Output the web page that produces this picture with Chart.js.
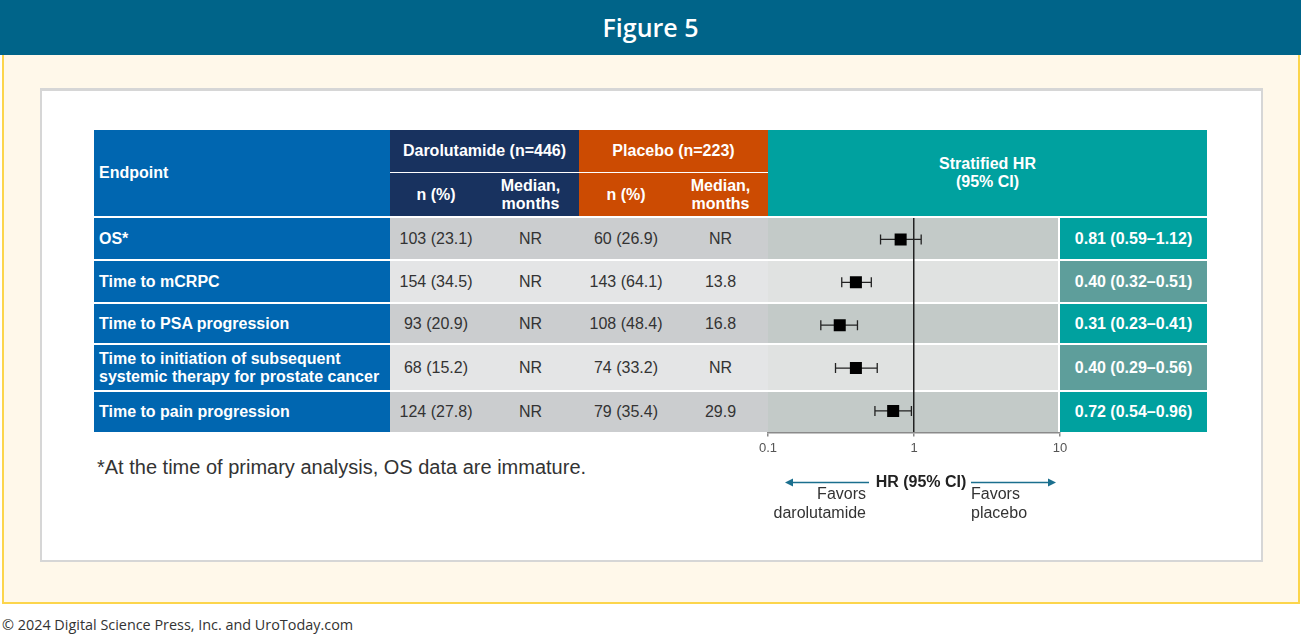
<!DOCTYPE html>
<html>
<head>
<meta charset="utf-8">
<script src="https://cdn.jsdelivr.net/npm/chart.js@4.4.0/dist/chart.umd.min.js"></script>
<style>
  body { margin: 0; width: 1302px; height: 635px; background: #fff; position: relative; overflow: hidden;
         font-family: "Liberation Sans", Arial, sans-serif; }
  .box { position: absolute; box-sizing: border-box; }
  .cell { position: absolute; box-sizing: border-box; display: flex; align-items: center; justify-content: center;
          text-align: center; font-size: 16px; line-height: 18px; color: #333; white-space: nowrap; }
  .hd { color: #fff; font-weight: bold; }
  .left { justify-content: flex-start; text-align: left; padding-left: 5px; }
</style>
</head>
<body>
<div class="box" style="left:0;top:0;width:1301px;height:55px;background:#006489;"></div>
<div class="box" style="left:0;top:0;width:1301px;height:55px;color:#fff;font-family:'Open Sans',sans-serif;font-weight:600;font-size:25px;line-height:55px;text-align:center;">Figure 5</div>
<div class="box" style="left:2px;top:55px;width:1298px;height:549px;background:#fff8ea;border:2px solid #fcd54c;border-top:none;"></div>
<div class="box" style="left:40px;top:88px;width:1223px;height:474px;background:#fff;border:2px solid #d6d6d6;border-top-width:3px;"></div>
<div id="table"></div>
<div class="box" style="left:97px;top:456px;font-size:20px;color:#333;white-space:nowrap;">*At the time of primary analysis, OS data are immature.</div>
<div class="box" style="left:2px;top:615px;font-family:'Open Sans',sans-serif;font-size:14.4px;color:#333;white-space:nowrap;">© 2024 Digital Science Press, Inc. and UroToday.com</div>
<canvas id="forest" style="position:absolute;left:748px;top:216px;"></canvas>

<script>
// données du tableau
const endpoints = ['OS*', 'Time to mCRPC', 'Time to PSA progression',
  'Time to initiation of subsequent<br>systemic therapy for prostate cancer', 'Time to pain progression'];
const daroN = ['103 (23.1)', '154 (34.5)', '93 (20.9)', '68 (15.2)', '124 (27.8)'];
const daroMedian = ['NR', 'NR', 'NR', 'NR', 'NR'];
const placeboN = ['60 (26.9)', '143 (64.1)', '108 (48.4)', '74 (33.2)', '79 (35.4)'];
const placeboMedian = ['NR', '13.8', '16.8', 'NR', '29.9'];
const hr = [0.81, 0.40, 0.31, 0.40, 0.72];
const hrLow = [0.59, 0.32, 0.23, 0.29, 0.54];
const hrHigh = [1.12, 0.51, 0.41, 0.56, 0.96];
const xTicks = [0.1, 1, 10];

const table = document.getElementById('table');
function cell(x, y, w, h, bg, html, cls) {
  const d = document.createElement('div');
  d.className = 'cell ' + (cls || '');
  d.style.cssText = `left:${x}px;top:${y}px;width:${w}px;height:${h}px;background:${bg};`;
  d.innerHTML = html || '';
  table.appendChild(d);
}

// en-tête
const blue = '#0066b0', navy = '#18325f', orange = '#cc4b02', teal = '#00a19f';
cell(94, 130, 296, 86, blue, 'Endpoint', 'hd left');
cell(390, 130, 189, 42, navy, 'Darolutamide (n=446)', 'hd');
cell(390, 173, 92, 43, navy, 'n (%)', 'hd');
cell(482, 173, 97, 43, navy, 'Median,<br>months', 'hd');
cell(579, 130, 189, 42, orange, 'Placebo (n=223)', 'hd');
cell(579, 173, 94, 43, orange, 'n (%)', 'hd');
cell(673, 173, 95, 43, orange, 'Median,<br>months', 'hd');
cell(768, 130, 439, 86, teal, 'Stratified HR<br>(95% CI)', 'hd');

// lignes de données
const rowTops = [218, 261, 304, 345, 392];
const rowHeights = [41, 41, 39, 45, 40];
endpoints.forEach((name, i) => {
  const y = rowTops[i], h = rowHeights[i];
  const odd = i % 2 === 0;
  cell(94, y, 296, h, blue, name, 'hd left');
  cell(390, y, 378, h, odd ? '#cbcdcf' : '#e4e5e6');
  cell(390, y, 92, h, 'transparent', daroN[i]);
  cell(482, y, 97, h, 'transparent', daroMedian[i]);
  cell(579, y, 94, h, 'transparent', placeboN[i]);
  cell(673, y, 95, h, 'transparent', placeboMedian[i]);
  cell(768, y, 290, h, odd ? '#c3cac8' : '#e0e2e1');
  const txt = hr[i].toFixed(2) + ' (' + hrLow[i].toFixed(2) + '\u2013' + hrHigh[i].toFixed(2) + ')';
  cell(1060, y, 147, h, odd ? teal : '#5e9e9b', txt, 'hd');
});

// barres d'erreur (IC 95 %)
const whiskers = {
  id: 'whiskers',
  beforeDatasetsDraw(chart) {
    const { ctx, scales: { x, y } } = chart;
    ctx.save();
    ctx.strokeStyle = '#222';
    ctx.lineWidth = 1.3;
    hr.forEach((v, i) => {
      const py = y.getPixelForValue(i);
      const x0 = x.getPixelForValue(hrLow[i]), x1 = x.getPixelForValue(hrHigh[i]);
      ctx.beginPath();
      ctx.moveTo(x0, py); ctx.lineTo(x1, py);
      ctx.moveTo(x0, py - 5); ctx.lineTo(x0, py + 5);
      ctx.moveTo(x1, py - 5); ctx.lineTo(x1, py + 5);
      ctx.stroke();
    });
    ctx.restore();
  }
};

// légende sous l'axe : flèches et "Favors"
const favors = {
  id: 'favors',
  afterDraw(chart) {
    const { ctx, chartArea, scales: { x } } = chart;
    const cx = x.getPixelForValue(1);
    const xl = x.getPixelForValue(0.1), xr = x.getPixelForValue(10);
    const ya = chartArea.bottom + 50;
    ctx.save();
    ctx.fillStyle = '#222';
    ctx.font = 'bold 16px "Liberation Sans", Arial, sans-serif';
    ctx.textAlign = 'center';
    ctx.textBaseline = 'middle';
    ctx.fillText('HR (95% CI)', cx + 7, ya);
    ctx.strokeStyle = '#1b6f8e';
    ctx.fillStyle = '#1b6f8e';
    ctx.lineWidth = 1.5;
    ctx.beginPath();
    ctx.moveTo(cx - 45, ya); ctx.lineTo(xl + 22, ya);
    ctx.moveTo(cx + 57, ya); ctx.lineTo(xr - 8, ya);
    ctx.stroke();
    ctx.beginPath();
    ctx.moveTo(xl + 17, ya); ctx.lineTo(xl + 25, ya - 4); ctx.lineTo(xl + 25, ya + 4); ctx.closePath();
    ctx.moveTo(xr - 4, ya); ctx.lineTo(xr - 12, ya - 4); ctx.lineTo(xr - 12, ya + 4); ctx.closePath();
    ctx.fill();
    ctx.fillStyle = '#333';
    ctx.font = '16px "Liberation Sans", Arial, sans-serif';
    ctx.textAlign = 'right';
    ctx.fillText('Favors', cx - 48, ya + 12);
    ctx.fillText('darolutamide', cx - 48, ya + 31);
    ctx.textAlign = 'left';
    ctx.fillText('Favors', cx + 57, ya + 12);
    ctx.fillText('placebo', cx + 57, ya + 31);
    ctx.restore();
  }
};

const canvas = document.getElementById('forest');
canvas.width = 332;
canvas.height = 310;
canvas.style.width = '332px';
canvas.style.height = '310px';

new Chart(canvas.getContext('2d'), {
  type: 'scatter',
  data: {
    datasets: [{
      data: hr.map((v, i) => ({ x: v, y: i })),
      pointStyle: 'rect',
      pointRadius: 8.5,
      pointHoverRadius: 8.5,
      backgroundColor: '#000',
      borderColor: '#000',
      borderWidth: 0
    }]
  },
  options: {
    responsive: false,
    animation: false,
    events: [],
    layout: { autoPadding: false, padding: { left: 20, right: 20, top: 2, bottom: 66 } },
    plugins: { legend: { display: false }, tooltip: { enabled: false } },
    scales: {
      x: {
        type: 'logarithmic',
        min: 0.1,
        max: 10,
        afterBuildTicks: axis => { axis.ticks = xTicks.map(v => ({ value: v })); },
        ticks: {
          autoSkip: false,
          maxRotation: 0,
          padding: 4,
          color: '#555',
          font: { size: 13, family: '"Liberation Sans", Arial, sans-serif' },
          callback: v => String(v)
        },
        grid: {
          tickLength: 4,
          lineWidth: 1.5,
          color: c => (c.tick && c.tick.value === 1) ? '#222' : 'rgba(0,0,0,0)',
          tickColor: '#888'
        },
        border: { color: '#8a8a8a', width: 1.5 }
      },
      y: {
        display: false,
        min: -0.5,
        max: 4.5,
        reverse: true
      }
    }
  },
  plugins: [whiskers, favors]
});
</script>
</body>
</html>
